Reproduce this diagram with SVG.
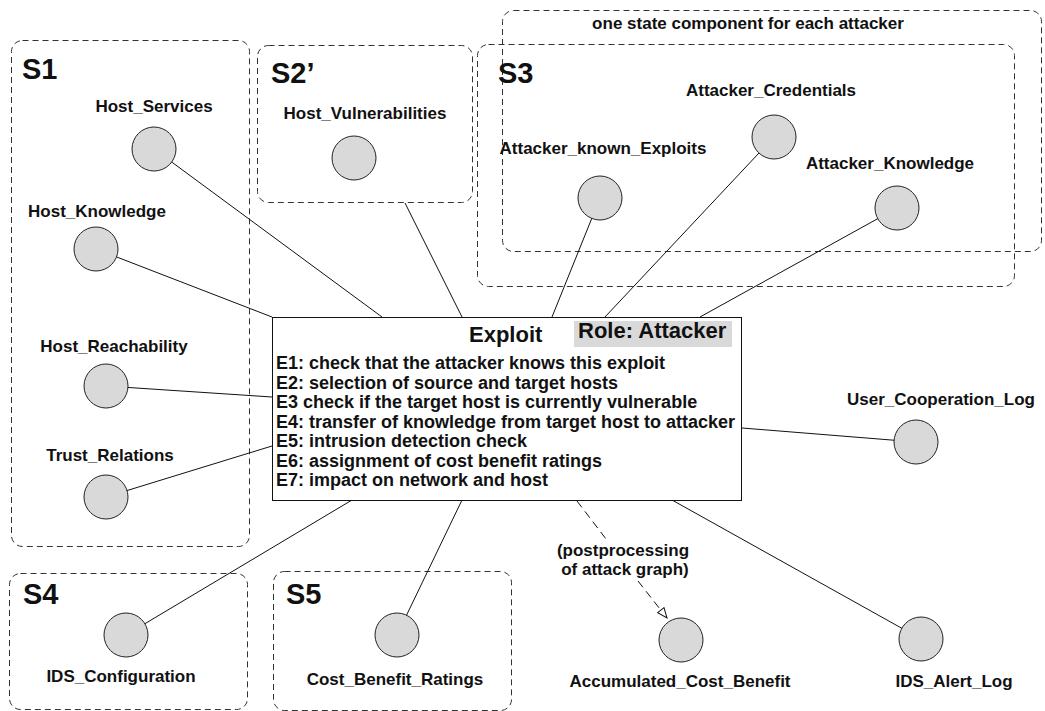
<svg xmlns="http://www.w3.org/2000/svg" width="1045" height="711" viewBox="0 0 1045 711">
  <style>
    .zone { fill: none; stroke: #333; stroke-width: 1; stroke-dasharray: 6 4; }
    .state { fill: #d9d9d9; stroke: #222; stroke-width: 1; }
    .txt { font-family: "Liberation Sans", Arial, Helvetica, sans-serif; font-weight: bold; fill: #111; }
    .lbl { font-size: 17px; text-anchor: middle; }
    .zt { font-size: 29px; }
    .body { font-size: 18px; }
    .head { font-size: 22px; }
    .link { stroke: #111; stroke-width: 1; fill: none; }
    .post { stroke-dasharray: 8 5; }
  </style>
  <defs>
    <marker id="openTri" viewBox="0 0 12 10" refX="11" refY="5" markerWidth="12" markerHeight="10" markerUnits="userSpaceOnUse" orient="auto">
      <path d="M1,1 L11,5 L1,9 Z" fill="#fff" stroke="#111" stroke-width="1"/>
    </marker>
  </defs>
  <rect width="1045" height="711" fill="#fff"/>

  <!-- state component zones -->
  <g id="zones">
    <rect id="zone-S1" class="zone" x="11.5" y="40.5" width="238" height="506" rx="11"/>
    <rect id="zone-S2" class="zone" x="257.5" y="45.5" width="215" height="157" rx="11"/>
    <rect id="zone-attackers" class="zone" x="502.5" y="10.5" width="539" height="241" rx="11"/>
    <rect id="zone-S3" class="zone" x="477.5" y="44.5" width="537" height="242" rx="11"/>
    <rect id="zone-S4" class="zone" x="9.5" y="573.5" width="238" height="136" rx="11"/>
    <rect id="zone-S5" class="zone" x="273.5" y="571.5" width="238" height="139" rx="11"/>
    <text class="txt zt" x="22" y="79">S1</text>
    <text class="txt zt" x="271" y="83">S2’</text>
    <text class="txt zt" x="498" y="83">S3</text>
    <text class="txt zt" x="23" y="604">S4</text>
    <text class="txt zt" x="286" y="604">S5</text>
    <text class="txt lbl" x="748" y="29">one state component for each attacker</text>
  </g>

  <!-- connectors between the exploit rule and the state components -->
  <g id="connectors">
    <line class="link" x1="382" y1="317" x2="154" y2="149"/>
    <line class="link" x1="272" y1="317" x2="96" y2="249"/>
    <line class="link" x1="272" y1="397" x2="106" y2="386"/>
    <line class="link" x1="272" y1="446" x2="106" y2="497"/>
    <line class="link" x1="462" y1="317" x2="405" y2="203"/>
    <line class="link" x1="552" y1="317" x2="600" y2="198"/>
    <line class="link" x1="605" y1="317" x2="774" y2="137"/>
    <line class="link" x1="700" y1="317" x2="897" y2="208"/>
    <line class="link" x1="742" y1="428" x2="916" y2="442"/>
    <line class="link" x1="672" y1="500" x2="921" y2="639"/>
    <line class="link" x1="462" y1="500" x2="397" y2="635"/>
    <line class="link" x1="352" y1="500" x2="126" y2="635"/>
    <path class="link post" d="M577,501 L606,539"/>
    <path class="link post" d="M638,581 L667,618" marker-end="url(#openTri)"/>
    <text class="txt lbl" x="623" y="556">(postprocessing</text>
    <text class="txt lbl" x="625" y="575">of attack graph)</text>
  </g>

  <!-- exploit rule -->
  <g id="exploit">
    <rect x="272.5" y="317.5" width="469" height="183" fill="#fff" stroke="#111" stroke-width="1"/>
    <rect x="574" y="321" width="158" height="26" fill="#d9d9d9"/>
    <text class="txt head" x="469" y="342">Exploit</text>
    <text class="txt head" x="578" y="338">Role: Attacker</text>
    <text class="txt body" x="276" y="369">E1: check that the attacker knows this exploit</text>
    <text class="txt body" x="276" y="388.5">E2: selection of source and target hosts</text>
    <text class="txt body" x="276" y="408">E3 check if the target host is currently vulnerable</text>
    <text class="txt body" x="276" y="427.5">E4: transfer of knowledge from target host to attacker</text>
    <text class="txt body" x="276" y="447">E5: intrusion detection check</text>
    <text class="txt body" x="276" y="466.5">E6: assignment of cost benefit ratings</text>
    <text class="txt body" x="276" y="486">E7: impact on network and host</text>
  </g>

  <!-- state variables -->
  <g id="host-services"><circle class="state" cx="154" cy="149" r="22"/><text class="txt lbl" x="154" y="112">Host_Services</text></g>
  <g id="host-knowledge"><circle class="state" cx="96" cy="249" r="22"/><text class="txt lbl" x="97" y="217">Host_Knowledge</text></g>
  <g id="host-reachability"><circle class="state" cx="106" cy="386" r="22"/><text class="txt lbl" x="114" y="352">Host_Reachability</text></g>
  <g id="trust-relations"><circle class="state" cx="106" cy="497" r="22"/><text class="txt lbl" x="110" y="461">Trust_Relations</text></g>
  <g id="host-vulnerabilities"><circle class="state" cx="354" cy="158" r="22"/><text class="txt lbl" x="365" y="119">Host_Vulnerabilities</text></g>
  <g id="attacker-known-exploits"><circle class="state" cx="600" cy="198" r="22"/><text class="txt lbl" x="603" y="154">Attacker_known_Exploits</text></g>
  <g id="attacker-credentials"><circle class="state" cx="774" cy="137" r="22"/><text class="txt lbl" x="771" y="96">Attacker_Credentials</text></g>
  <g id="attacker-knowledge"><circle class="state" cx="897" cy="208" r="22"/><text class="txt lbl" x="890" y="169">Attacker_Knowledge</text></g>
  <g id="user-cooperation-log"><circle class="state" cx="916" cy="442" r="22"/><text class="txt lbl" x="941" y="405">User_Cooperation_Log</text></g>
  <g id="ids-alert-log"><circle class="state" cx="921" cy="639" r="22"/><text class="txt lbl" x="954" y="687">IDS_Alert_Log</text></g>
  <g id="accumulated-cost-benefit"><circle class="state" cx="681" cy="640" r="22"/><text class="txt lbl" x="680" y="687">Accumulated_Cost_Benefit</text></g>
  <g id="cost-benefit-ratings"><circle class="state" cx="397" cy="635" r="22"/><text class="txt lbl" x="395" y="685">Cost_Benefit_Ratings</text></g>
  <g id="ids-configuration"><circle class="state" cx="126" cy="635" r="22"/><text class="txt lbl" x="121" y="682">IDS_Configuration</text></g>
</svg>
